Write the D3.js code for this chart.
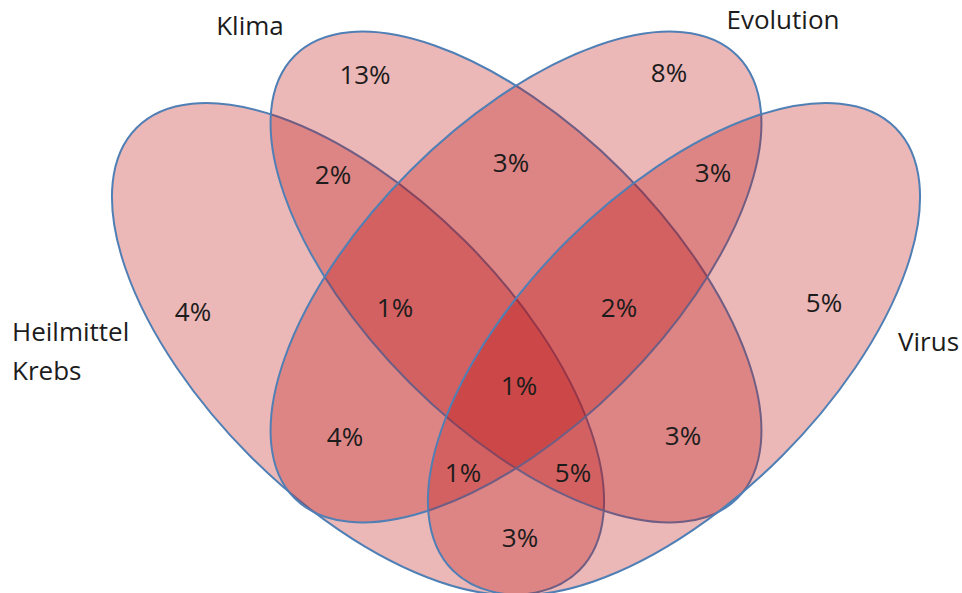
<!DOCTYPE html>
<html>
<head>
<meta charset="utf-8">
<script src="https://cdn.jsdelivr.net/npm/d3@7"></script>
<style>
  html, body { margin: 0; padding: 0; background: #ffffff; }
  svg { display: block; }
  text { font-family: "Open Sans", "Liberation Sans", sans-serif; fill: #1c1c1c; }
</style>
</head>
<body>
<svg id="chart" width="962" height="593"></svg>
<script>
// ---------- DATA ----------
const setNames = ["Heilmittel Krebs", "Klima", "Evolution", "Virus"];
const setLabelLines = [["Heilmittel", "Krebs"], ["Klima"], ["Evolution"], ["Virus"]];

// each region: which sets (indices into setNames) it belongs to
const regionSets = [
  [1], [2], [0], [3],
  [0, 1], [1, 2], [2, 3],
  [0, 1, 2], [1, 2, 3], [0, 1, 2, 3],
  [0, 2], [1, 3], [0, 2, 3], [0, 1, 3], [0, 3]
];
const regionValues = [13, 8, 4, 5, 2, 3, 3, 1, 2, 1, 4, 3, 1, 5, 3];

// ---------- LAYOUT (unit coordinates, origin at diagram centre) ----------
const ellipseLayout = [
  { cx: -1.58, cy: 0.72, rx: 3.13, ry: 1.52, angle: 45 },   // Heilmittel Krebs
  { cx: 0.00,  cy: 0.00, rx: 3.13, ry: 1.50, angle: 45 },   // Klima
  { cx: 0.00,  cy: 0.00, rx: 3.13, ry: 1.50, angle: -45 },  // Evolution
  { cx: 1.58,  cy: 0.72, rx: 3.13, ry: 1.52, angle: -45 }   // Virus
];
const regionLabelPos = [
  [-1.51, -2.02], [1.53, -2.04], [-3.23, 0.35], [3.08, 0.26],
  [-1.83, -1.02], [-0.05, -1.14], [1.97, -1.04],
  [-1.21, 0.31], [1.03, 0.31], [0.03, 1.09],
  [-1.71, 1.60], [1.67, 1.59], [-0.53, 1.96], [0.57, 1.96], [0.04, 2.61]
];
const setLabelPos = [
  { x: -5.04, y: 0.745, anchor: "start" },
  { x: -2.66, y: -2.51, anchor: "middle" },
  { x: 2.67, y: -2.57, anchor: "middle" },
  { x: 3.82, y: 0.65, anchor: "start" }
];

// ---------- SCALES ----------
const x = d3.scaleLinear().domain([0, 1]).range([516, 616]);
const y = d3.scaleLinear().domain([0, 1]).range([277, 377]);
const len = v => x(v) - x(0);

const svg = d3.select("#chart");

// ---------- ELLIPSES ----------
svg.append("g").selectAll("ellipse")
  .data(ellipseLayout)
  .join("ellipse")
  .attr("cx", 0).attr("cy", 0)
  .attr("rx", d => len(d.rx))
  .attr("ry", d => len(d.ry))
  .attr("transform", d => `translate(${x(d.cx)},${y(d.cy)}) rotate(${d.angle})`)
  .attr("fill", "rgb(188,18,18)")
  .attr("fill-opacity", 0.3)
  .attr("stroke", "#4f7fb5")
  .attr("stroke-width", 2);

// ---------- REGION LABELS ----------
svg.append("g").selectAll("text")
  .data(regionValues.map((v, i) => ({ v, p: regionLabelPos[i], sets: regionSets[i] })))
  .join("text")
  .attr("x", d => x(d.p[0]))
  .attr("y", d => y(d.p[1]))
  .attr("dy", "0.36em")
  .attr("text-anchor", "middle")
  .attr("font-size", 26)
  .text(d => d.v + "%");

// ---------- SET LABELS ----------
const sl = svg.append("g").selectAll("text")
  .data(setLabelLines.map((lines, i) => ({ lines, p: setLabelPos[i] })))
  .join("text")
  .attr("text-anchor", d => d.p.anchor)
  .attr("font-size", 26);
sl.each(function(d) {
  const t = d3.select(this);
  const n = d.lines.length;
  d.lines.forEach((line, k) => {
    t.append("tspan")
      .attr("x", x(d.p.x))
      .attr("y", y(d.p.y) + (k - (n - 1) / 2) * 39)
      .attr("dy", "0.36em")
      .text(line);
  });
});
</script>
</body>
</html>
